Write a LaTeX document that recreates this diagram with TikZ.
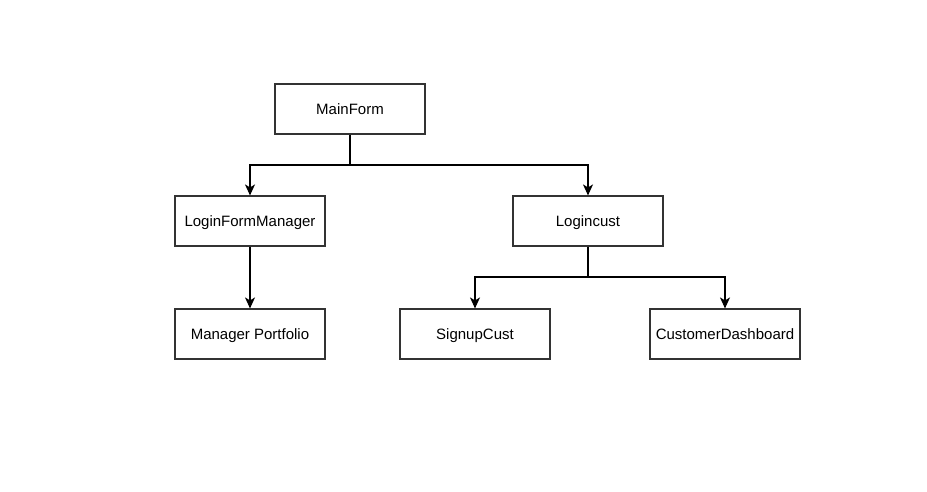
\documentclass[tikz,border=0pt]{standalone}
\usepackage{fontspec}
\setmainfont{Liberation Sans}
\usetikzlibrary{arrows.meta}
\begin{document}
\begin{tikzpicture}[x=1pt,y=-1pt,
  box/.style={draw=black!80,line width=1.15pt,fill=white,minimum width=150pt,minimum height=50pt,inner sep=0pt,text height=14pt,text depth=3pt,font=\fontsize{15}{18}\selectfont},
  conn/.style={draw=black,line width=1.15pt,-{Stealth[length=11pt,width=10pt,inset=3pt]}},
  plain/.style={draw=black,line width=1.15pt}]
\useasboundingbox (0,0) rectangle (927,492);
\node[box] (main) at (350,109) {MainForm};
\node[box] (lfm) at (250,221) {LoginFormManager};
\node[box] (lc) at (588,221) {Logincust};
\node[box] (mp) at (250,334) {Manager Portfolio};
\node[box] (su) at (475,334) {SignupCust};
\node[box] (cd) at (725,334) {CustomerDashboard};
\coordinate (j1) at (350,165);
\coordinate (j2) at (588,277);
\draw[plain] (main.south) -- (j1);
\draw[conn] (j1) -| (lfm.north);
\draw[conn] (j1) -| (lc.north);
\draw[conn] (lfm.south) -- (mp.north);
\draw[plain] (lc.south) -- (j2);
\draw[conn] (j2) -| (su.north);
\draw[conn] (j2) -| (cd.north);
\end{tikzpicture}
\end{document}
